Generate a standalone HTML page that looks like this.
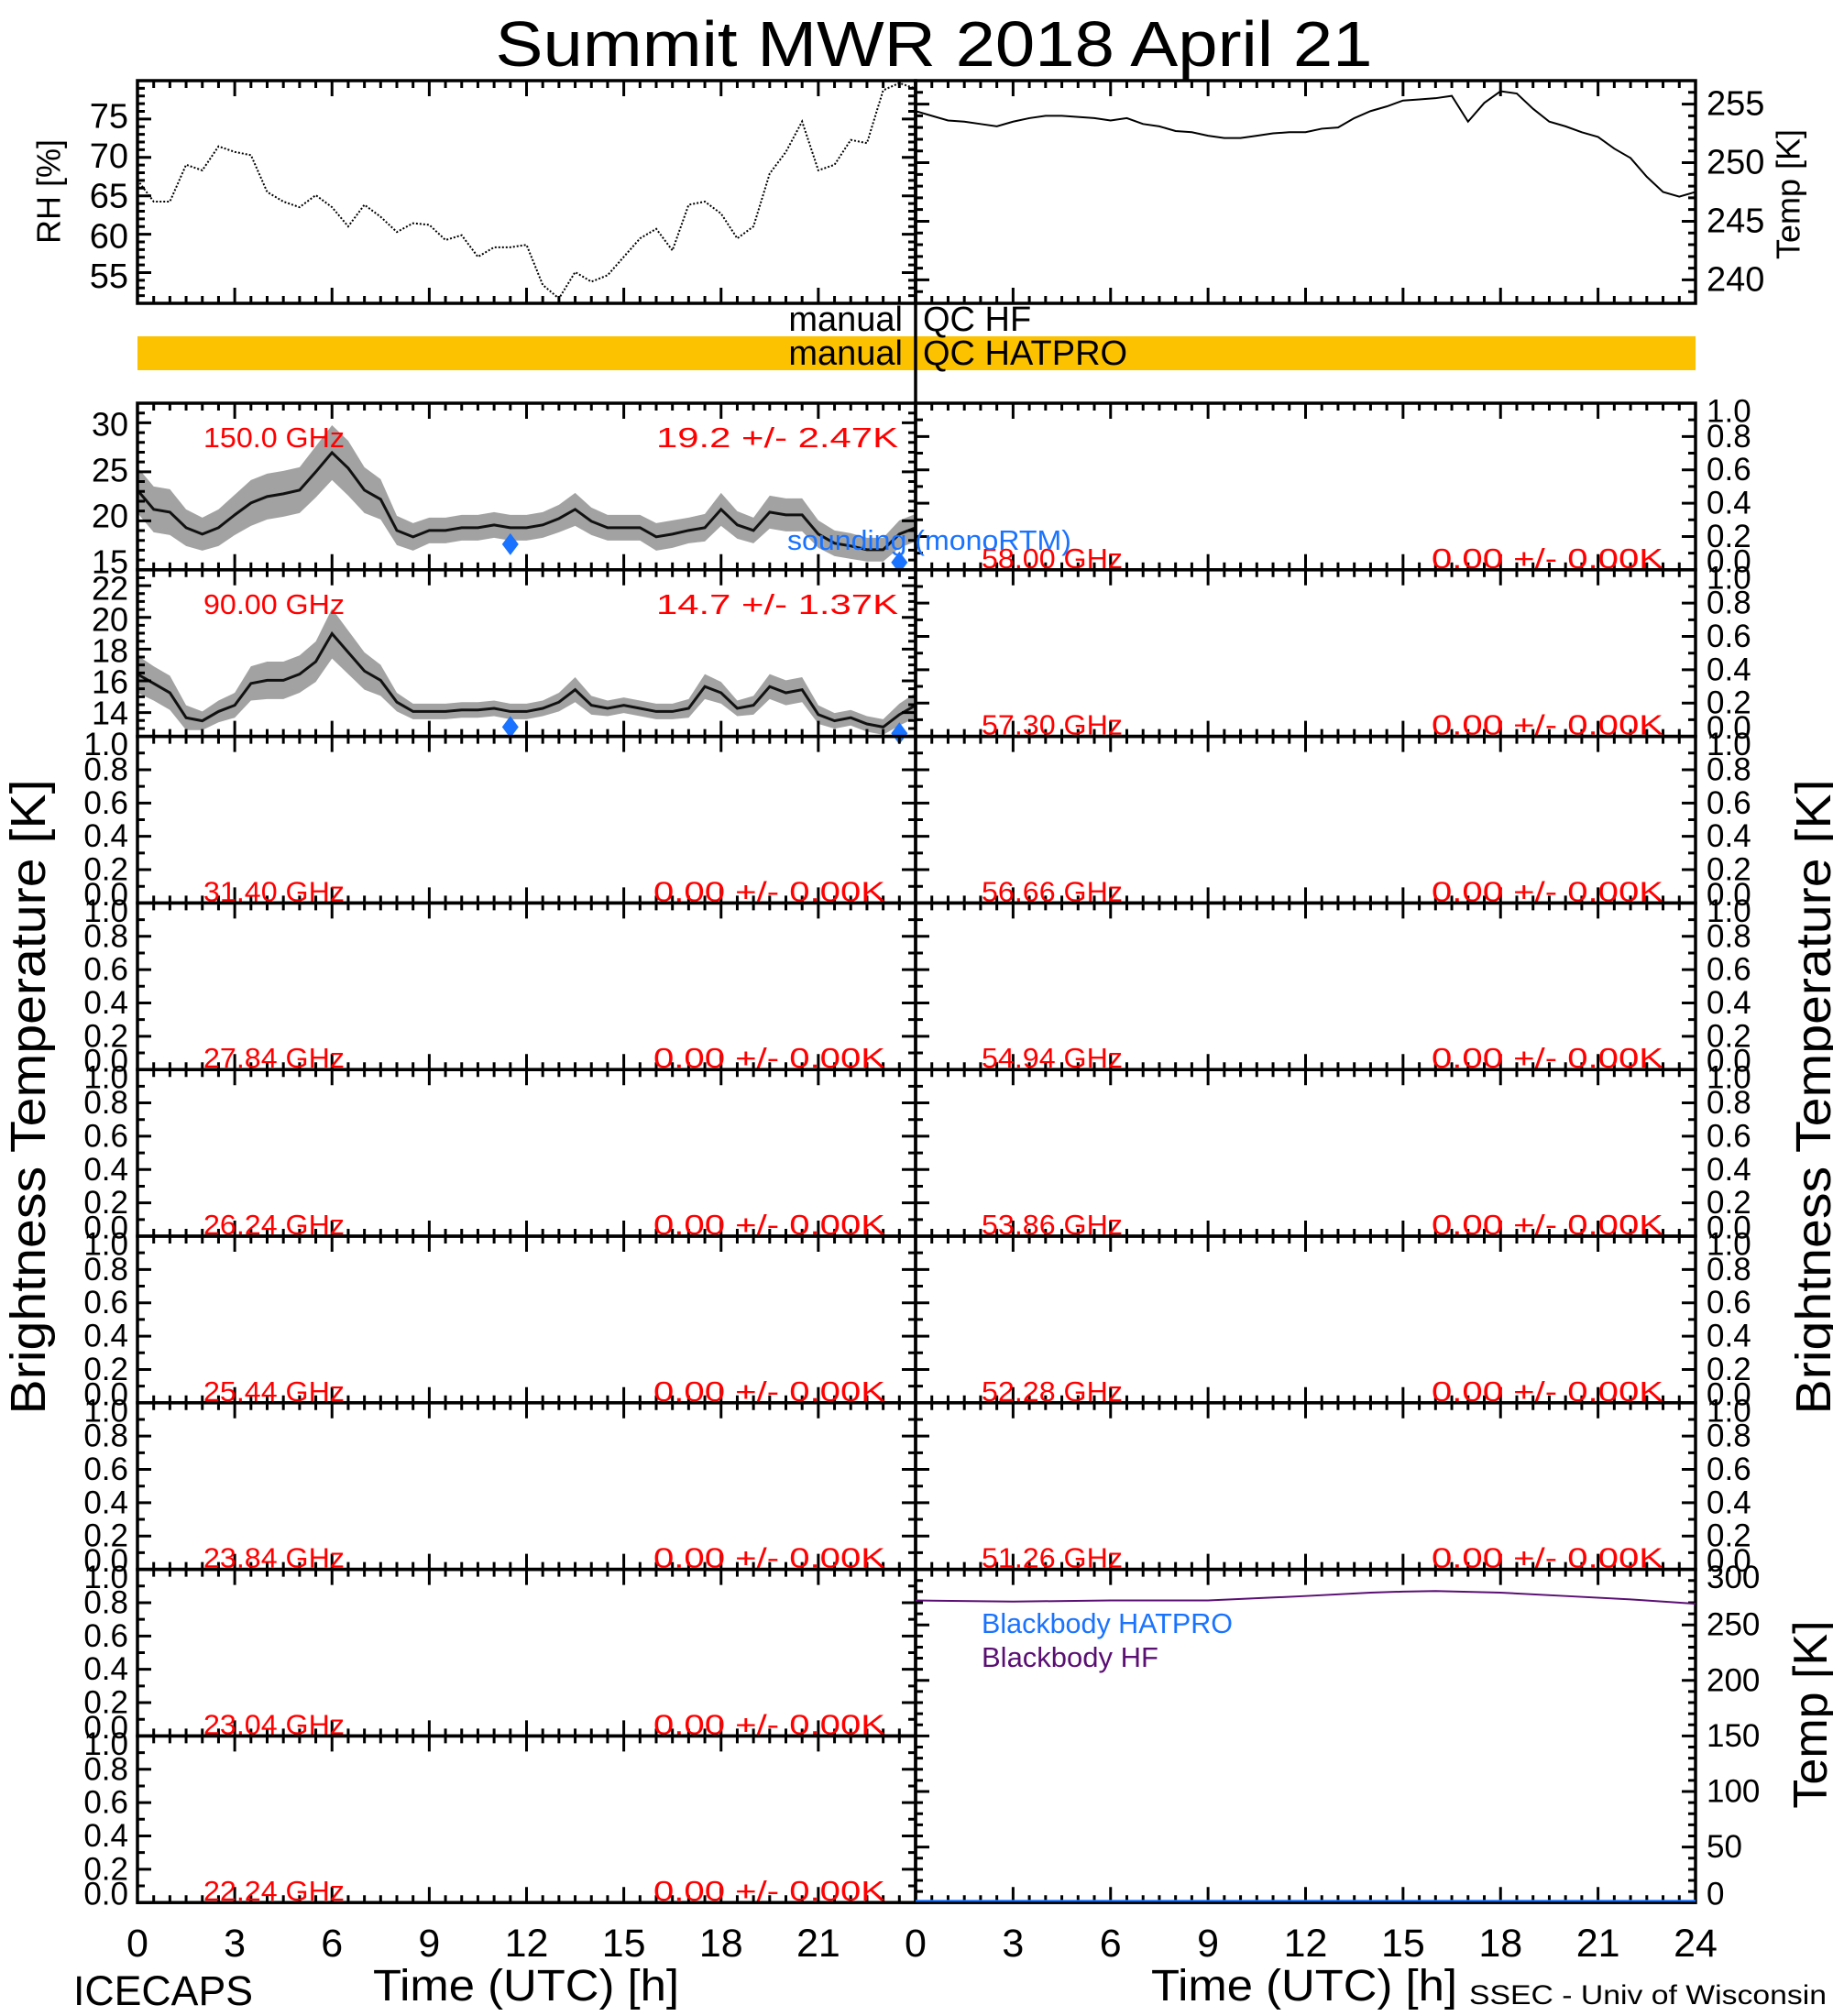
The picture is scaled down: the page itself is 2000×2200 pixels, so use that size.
<!DOCTYPE html>
<html><head><meta charset="utf-8"><style>
html,body{margin:0;padding:0;background:#fff;}
svg{display:block;font-family:"Liberation Sans",sans-serif;}
</style></head><body>
<svg id="chart" width="2000" height="2200" viewBox="0 0 2000 2200" xmlns="http://www.w3.org/2000/svg">
<defs>
<clipPath id="clipRH"><rect x="150" y="88" width="849" height="243"/></clipPath>
<clipPath id="clipT"><rect x="999" y="88" width="851" height="243"/></clipPath>
<clipPath id="clipB1"><rect x="150" y="440" width="849" height="181.8"/></clipPath>
<clipPath id="clipB2"><rect x="150" y="621.8" width="849" height="181.8"/></clipPath>
</defs>
</svg>
<script>
// ---------- data ----------
const hours = [0,0.5,1,1.5,2,2.5,3,3.5,4,4.5,5,5.5,6,6.5,7,7.5,8,8.5,9,9.5,10,10.5,11,11.5,12,12.5,13,13.5,14,14.5,15,15.5,16,16.5,17,17.5,18,18.5,19,19.5,20,20.5,21,21.5,22,22.5,23,23.5,24];
const rhValues = [67.1,64.4,64.4,69.0,68.3,71.3,70.6,70.2,65.6,64.4,63.7,65.2,63.7,61.3,64.0,62.5,60.6,61.7,61.5,59.6,60.2,57.5,58.7,58.7,59.0,54.0,52.3,55.6,54.4,55.2,57.5,59.8,61.0,58.3,64.0,64.4,62.9,59.8,61.3,67.9,70.6,74.4,68.3,69.0,72.1,71.7,78.3,79.2,78.5];
const tempValues = [254.4,254.0,253.6,253.5,253.3,253.1,253.5,253.8,254.0,254.0,253.9,253.8,253.6,253.8,253.3,253.1,252.7,252.6,252.3,252.1,252.1,252.3,252.5,252.6,252.6,252.9,253.0,253.8,254.4,254.8,255.3,255.4,255.5,255.7,253.5,255.1,256.1,255.9,254.6,253.5,253.1,252.6,252.2,251.2,250.4,248.8,247.5,247.1,247.5];
const bt150Values = [22.8,20.7,20.4,18.7,18.0,18.7,20.1,21.4,22.1,22.4,22.8,24.8,26.9,25.2,22.8,21.8,18.4,17.7,18.4,18.4,18.7,18.7,19.0,18.7,18.7,19.0,19.7,20.7,19.4,18.7,18.7,18.7,17.7,18.0,18.4,18.7,20.7,19.0,18.4,20.4,20.1,20.1,18.0,17.0,16.7,16.3,16.3,18.0,18.7];
const bt150Spread = [2.5,2.5,2.5,2.0,1.8,2.0,2.2,2.5,2.5,2.5,2.5,2.8,3.0,3.0,2.5,2.2,1.6,1.5,1.4,1.4,1.4,1.4,1.4,1.4,1.4,1.4,1.5,1.8,1.5,1.4,1.4,1.4,1.5,1.5,1.4,1.5,1.8,1.5,1.4,1.8,1.8,1.8,1.5,1.4,1.4,1.3,1.3,1.5,1.5];
const bt90Values = [16.5,15.9,15.3,13.7,13.5,14.1,14.5,15.9,16.1,16.1,16.5,17.3,19.1,17.9,16.7,16.1,14.7,14.1,14.1,14.1,14.2,14.2,14.3,14.1,14.1,14.3,14.7,15.5,14.5,14.3,14.5,14.3,14.1,14.1,14.3,15.7,15.3,14.3,14.5,15.7,15.3,15.5,13.9,13.5,13.7,13.3,13.1,13.9,14.5];
const bt90Spread = [1.2,1.1,1.1,0.8,0.6,0.7,0.8,1.1,1.2,1.2,1.2,1.3,1.6,1.4,1.2,1.0,0.6,0.5,0.5,0.5,0.5,0.5,0.5,0.5,0.5,0.5,0.6,0.8,0.6,0.5,0.5,0.5,0.5,0.5,0.6,0.8,0.7,0.5,0.6,0.8,0.8,0.8,0.6,0.5,0.5,0.5,0.5,0.7,0.8];
const soundingHours = [11.5, 23.5];
const sounding150 = [16.9, 14.9];
const sounding90 = [13.1, 12.7];
const bbHours = [0,3,6,9,12,14,15,16,18,20,22,24];
const bbHF = [272,271,272,272,276,279,280,280.5,279,276,273,269];
const bbHATPRO = [0,0,0,0,0,0,0,0,0,0,0,0];
const leftLabels = ["150.0 GHz","90.00 GHz","31.40 GHz","27.84 GHz","26.24 GHz","25.44 GHz","23.84 GHz","23.04 GHz","22.24 GHz"];
const leftStats = ["19.2 +/-  2.47K","14.7 +/-  1.37K","0.00 +/- 0.00K","0.00 +/- 0.00K","0.00 +/- 0.00K","0.00 +/- 0.00K","0.00 +/- 0.00K","0.00 +/- 0.00K","0.00 +/- 0.00K"];
const rightLabels = ["58.00 GHz","57.30 GHz","56.66 GHz","54.94 GHz","53.86 GHz","52.28 GHz","51.26 GHz"];
const rightStats = ["0.00 +/- 0.00K","0.00 +/- 0.00K","0.00 +/- 0.00K","0.00 +/- 0.00K","0.00 +/- 0.00K","0.00 +/- 0.00K","0.00 +/- 0.00K"];
const xTickLabelsLeft = [0,3,6,9,12,15,18,21];
const xTickLabelsRight = [0,3,6,9,12,15,18,21,24];
const emptyTicks = [0.0,0.2,0.4,0.6,0.8,1.0];
const rhTicks = [55,60,65,70,75];
const tempTicks = [240,245,250,255];
const bt150Ticks = [15,20,25,30];
const bt90Ticks = [14,16,18,20,22];
const bbTicks = [0,50,100,150,200,250,300];

// ---------- geometry ----------
const NS = "http://www.w3.org/2000/svg";
const svg = document.getElementById('chart');
const XL0 = 150, XM = 999, XR1 = 1850;
const PT = 440, PH = 181.8;
function xL(h){ return XL0 + h*(XM-XL0)/24; }
function xR(h){ return XM + h*(XR1-XM)/24; }
function yLin(v, vmin, vmax, y0, y1){ return y1 - (v-vmin)/(vmax-vmin)*(y1-y0); }

function mk(tag, attrs, parent){
  const el = document.createElementNS(NS, tag);
  for (const k in attrs) el.setAttribute(k, attrs[k]);
  (parent||svg).appendChild(el);
  return el;
}
function txt(x, y, s, size, fill, anchor, name, extra){
  const el = mk('text', {x:x, y:y, 'font-size':size, fill:fill||'#000', 'text-anchor':anchor||'start'});
  if (extra) for (const k in extra) el.setAttribute(k, extra[k]);
  el.textContent = s;
  
  
  return el;
}

function frame(x0, x1, y0, y1, hx, yMin, yMax, yMajor, yMinor, name){
  const g = mk('g', {});
  
  
  let d = '';
  for (let h=0; h<=24.001; h+=0.5){
    const x = hx(h);
    const L = (Math.abs(h/3-Math.round(h/3))<1e-6) ? 17 : 8;
    d += `M${x},${y0}v${L}M${x},${y1}v${-L}`;
  }
  const nMin = Math.round((yMax-yMin)/yMinor);
  for (let i=0;i<=nMin;i++){
    const v = yMin + i*yMinor;
    const y = yLin(v, yMin, yMax, y0, y1);
    const maj = Math.abs(v/yMajor - Math.round(v/yMajor))<1e-6;
    const L = maj ? 15 : 8;
    d += `M${x0},${y}h${L}M${x1},${y}h${-L}`;
  }
  mk('path', {d:d, stroke:'#000', 'stroke-width':3, fill:'none'}, g);
  mk('rect', {x:x0, y:y0, width:x1-x0, height:y1-y0, fill:'none', stroke:'#000', 'stroke-width':3.5}, g);
  return g;
}
function yLabels(ticks, vmin, vmax, y0, y1, x, anchor, size, name){
  ticks.forEach((v,i)=>{
    let y = yLin(v, vmin, vmax, y0, y1);
    if (Math.abs(y-y0)<2) y += 9;
    if (Math.abs(y-y1)<2) y -= 9;
    txt(x, y, String(v), size, '#000', anchor, name, {'dominant-baseline':'central'});
  });
}

// ---------- title ----------
txt(1019, 72, 'Summit MWR 2018 April 21', 70, '#000', 'middle', 'chart-title', {textLength:957, lengthAdjust:'spacingAndGlyphs'});

// ---------- RH panel ----------
const RHMIN = 51.7, RHMAX = 79.5, TMIN = 238.0, TMAX = 257.0;
frame(XL0, XM, 88, 331, xL, 51, 80, 5, 1, 'rh-panel');
yLabels(rhTicks, RHMIN, RHMAX, 88, 331, 140, 'end', 38, 'rh-tick-label');
let pts = hours.map((h,i)=> xL(h)+','+yLin(rhValues[i], RHMIN, RHMAX, 88, 331)).join(' ');
let el = mk('polyline', {points:pts, fill:'none', stroke:'#000', 'stroke-width':2, 'stroke-dasharray':'2 2', 'clip-path':'url(#clipRH)'});


txt(53, 209, 'RH [%]', 36, '#000', 'middle', 'rh-axis-title', {transform:'rotate(-90 53 209)', 'dominant-baseline':'central'});

// ---------- Temp panel ----------
frame(XM, XR1, 88, 331, xR, 238, 257, 5, 1, 'temp-panel');
yLabels(tempTicks, TMIN, TMAX, 88, 331, 1862, 'start', 38, 'temp-tick-label');
pts = hours.map((h,i)=> xR(h)+','+yLin(tempValues[i], TMIN, TMAX, 88, 331)).join(' ');
el = mk('polyline', {points:pts, fill:'none', stroke:'#000', 'stroke-width':2, 'clip-path':'url(#clipT)'});


txt(1951, 212, 'Temp [K]', 36, '#000', 'middle', 'temp-axis-title', {transform:'rotate(-90 1951 212)', 'dominant-baseline':'central'});

// ---------- QC bars ----------
el = mk('rect', {x:150, y:367, width:1700, height:37, fill:'#fcc200'});


el = mk('line', {x1:XM, y1:88, x2:XM, y2:440, stroke:'#000', 'stroke-width':3.5});


txt(985, 361, 'manual', 38, '#000', 'end', 'qc-hf-manual');
txt(1007, 361, 'QC  HF', 38, '#000', 'start', 'qc-hf-label', {'xml:space':'preserve'});
txt(985, 398, 'manual', 38, '#000', 'end', 'qc-hatpro-manual');
txt(1007, 398, 'QC  HATPRO', 38, '#000', 'start', 'qc-hatpro-label', {'xml:space':'preserve'});

// ---------- BT panels ----------
const B1MIN = 14.1, B1MAX = 32.3, B2MIN = 12.5, B2MAX = 23.2;
function band(vals, spread, vmin, vmax, y0, y1, clip, name){
  const up = hours.map((h,i)=> xL(h)+','+yLin(vals[i]+spread[i], vmin, vmax, y0, y1));
  const lo = hours.map((h,i)=> xL(h)+','+yLin(vals[i]-spread[i], vmin, vmax, y0, y1)).reverse();
  const b = mk('polygon', {points:up.concat(lo).join(' '), fill:'#555', 'fill-opacity':0.55, 'clip-path':clip});
  
  
  const c = mk('polyline', {points:hours.map((h,i)=> xL(h)+','+yLin(vals[i], vmin, vmax, y0, y1)).join(' '), fill:'none', stroke:'#111', 'stroke-width':3, 'clip-path':clip});
  
  
}
function diamond(x, y, name){
  const d = mk('polygon', {points:`${x},${y-12} ${x+9},${y} ${x},${y+12} ${x-9},${y}`, fill:'#1a73ff'});
  
  
}
let y0 = PT, y1 = PT+PH;
band(bt150Values, bt150Spread, B1MIN, B1MAX, y0, y1, 'url(#clipB1)', 'bt150');
frame(XL0, XM, y0, y1, xL, 15, 32, 5, 1, 'bt150-panel');
yLabels(bt150Ticks, B1MIN, B1MAX, y0, y1, 140, 'end', 36, 'bt150-tick-label');
soundingHours.forEach((h,i)=> diamond(xL(h), yLin(sounding150[i], B1MIN, B1MAX, y0, y1), 'sounding-150-marker'));
y0 = PT+PH; y1 = PT+2*PH;
band(bt90Values, bt90Spread, B2MIN, B2MAX, y0, y1, 'url(#clipB2)', 'bt90');
frame(XL0, XM, y0, y1, xL, 12.5, 23, 2, 0.5, 'bt90-panel');
yLabels(bt90Ticks, B2MIN, B2MAX, y0, y1, 140, 'end', 36, 'bt90-tick-label');
soundingHours.forEach((h,i)=> diamond(xL(h), yLin(sounding90[i], B2MIN, B2MAX, y0, y1), 'sounding-90-marker'));
for (let r=2;r<9;r++){
  y0 = PT+r*PH; y1 = y0+PH;
  frame(XL0, XM, y0, y1, xL, 0, 1, 0.2, 0.1, 'bt-left-panel-'+r);
  yLabels(emptyTicks.map(v=>v.toFixed(1)), 0, 1, y0, y1, 140, 'end', 35, 'bt-left-tick-label');
}
leftLabels.forEach((s,r)=>{
  y0 = PT+r*PH;
  const yy = r<2 ? y0+48 : y0+PH-2;
  txt(222, yy, s, 31, '#ff0000', 'start', 'channel-label-left', {textLength:154, lengthAdjust:'spacingAndGlyphs'});
  if (r<2) txt(716, yy, leftStats[r], 31, '#ff0000', 'start', 'channel-stats-left', {'xml:space':'preserve', textLength:264, lengthAdjust:'spacingAndGlyphs'});
  else txt(713, yy, leftStats[r], 31, '#ff0000', 'start', 'channel-stats-left', {textLength:253, lengthAdjust:'spacingAndGlyphs'});
});
for (let r=0;r<7;r++){
  y0 = PT+r*PH; y1 = y0+PH;
  frame(XM, XR1, y0, y1, xR, 0, 1, 0.2, 0.1, 'bt-right-panel-'+r);
  yLabels(emptyTicks.map(v=>v.toFixed(1)), 0, 1, y0, y1, 1862, 'start', 35, 'bt-right-tick-label');
  txt(1071, y1-2, rightLabels[r], 31, '#ff0000', 'start', 'channel-label-right', {textLength:154, lengthAdjust:'spacingAndGlyphs'});
  txt(1562, y1-2, rightStats[r], 31, '#ff0000', 'start', 'channel-stats-right', {textLength:253, lengthAdjust:'spacingAndGlyphs'});
}
txt(859, 600, 'sounding (monoRTM)', 31, '#1a73ff', 'start', 'sounding-legend', {textLength:310, lengthAdjust:'spacingAndGlyphs'});

// ---------- blackbody panel ----------
y0 = PT+7*PH; y1 = PT+9*PH;
frame(XM, XR1, y0, y1, xR, 0, 300, 50, 10, 'blackbody-panel');
yLabels(bbTicks, 0, 300, y0, y1, 1862, 'start', 35, 'blackbody-tick-label');
el = mk('polyline', {points:bbHours.map((h,i)=> xR(h)+','+yLin(bbHF[i],0,300,y0,y1)).join(' '), fill:'none', stroke:'#5a0f73', 'stroke-width':2});


el = mk('polyline', {points:bbHours.map((h,i)=> xR(h)+','+(yLin(bbHATPRO[i],0,300,y0,y1)-2)).join(' '), fill:'none', stroke:'#1a73ff', 'stroke-width':2});


txt(1071, 1782, 'Blackbody HATPRO', 31, '#1a73ff', 'start', 'legend-blackbody-hatpro', {textLength:274, lengthAdjust:'spacingAndGlyphs'});
txt(1071, 1819, 'Blackbody HF', 31, '#5a0f73', 'start', 'legend-blackbody-hf');
txt(1976, 1871, 'Temp [K]', 52, '#000', 'middle', 'blackbody-axis-title', {transform:'rotate(-90 1976 1871)', 'dominant-baseline':'central'});

// ---------- axis titles ----------
txt(31, 1197, 'Brightness Temperature [K]', 54, '#000', 'middle', 'bt-axis-title-left', {transform:'rotate(-90 31 1197)', 'dominant-baseline':'central', textLength:693, lengthAdjust:'spacingAndGlyphs'});
txt(1979, 1197, 'Brightness Temperature [K]', 54, '#000', 'middle', 'bt-axis-title-right', {transform:'rotate(-90 1979 1197)', 'dominant-baseline':'central', textLength:693, lengthAdjust:'spacingAndGlyphs'});
xTickLabelsLeft.forEach(h=> txt(xL(h), 2135, String(h), 43, '#000', 'middle', 'x-tick-label-left'));
xTickLabelsRight.forEach(h=> txt(xR(h), 2135, String(h), 43, '#000', 'middle', 'x-tick-label-right'));
txt(574, 2183, 'Time (UTC) [h]', 48, '#000', 'middle', 'x-axis-title-left', {textLength:334, lengthAdjust:'spacingAndGlyphs'});
txt(1423, 2183, 'Time (UTC) [h]', 48, '#000', 'middle', 'x-axis-title-right', {textLength:334, lengthAdjust:'spacingAndGlyphs'});
txt(80, 2188, 'ICECAPS', 45, '#000', 'start', 'icecaps-credit', {textLength:196, lengthAdjust:'spacingAndGlyphs'});
txt(1603, 2187, 'SSEC - Univ of Wisconsin', 30, '#000', 'start', 'ssec-credit', {textLength:390, lengthAdjust:'spacingAndGlyphs'});
</script>
</body></html>
